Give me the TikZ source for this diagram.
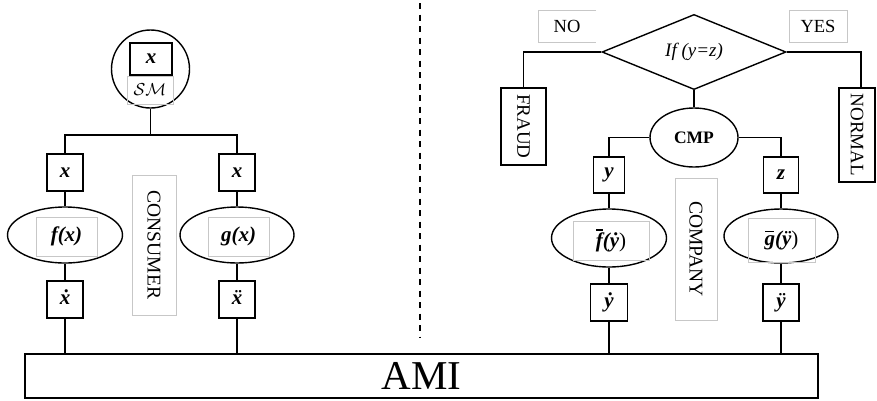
\documentclass[tikz,border=0pt]{standalone}
\usepackage{fontspec}
\usepackage{graphicx}
\setmainfont{Liberation Serif}
\usetikzlibrary{shapes.geometric}
% accent glyph laid over a letter
\newcommand\accover[2]{{\ooalign{#2\cr\hidewidth#1\hidewidth\cr}}}
% bar over a letter: #1 shift, #2 height, #3 length, #4 letter
\newcommand\barover[4]{\leavevmode\rlap{\kern#1\rule[#2]{#3}{0.07em}}#4}

\begin{document}
\begin{tikzpicture}[x=1pt,y=-1pt,
  wire/.style={line width=1.4pt},
  sq/.style={draw,wire,inner sep=0pt,font=\fontsize{21}{24}\selectfont\bfseries\itshape},
  plain/.style={draw,wire,inner sep=0pt,font=\fontsize{19}{22}\selectfont},
  ov/.style={draw,wire,ellipse,inner sep=0pt},
  tag/.style={draw=black!22,line width=0.6pt,inner sep=0pt},
  math/.style={font=\fontsize{21}{24}\selectfont\bfseries\itshape}]
\useasboundingbox (0,0) rectangle (877,400);

% ---------- consumer side ----------
\node[circle,draw,wire,minimum size=78] (sm) at (150.5,69) {};
\node[draw,line width=2pt,minimum width=42,minimum height=32,inner sep=0pt,
      font=\fontsize{21}{24}\selectfont\bfseries\itshape] (smx) at (151,59) {x};
\node[tag,minimum width=46,minimum height=28,font=\fontsize{16}{18}\selectfont] (smtag) at (150,90) {$\mathcal{SM}$};
\coordinate (lj) at (150.5,135);

\node[sq,minimum width=36,minimum height=37] (xa) at (65,172.5) {x};
\node[sq,minimum width=36,minimum height=37] (xb) at (237,172.5) {x};
\node[ov,minimum width=115,minimum height=56] (fa) at (65,235) {};
\node[tag,math,minimum width=61,minimum height=39] (fatag) at (66.5,236.5) {f(x)};
\node[ov,minimum width=114,minimum height=56] (gb) at (237,235) {};
\node[tag,math,minimum width=61,minimum height=39] (gbtag) at (238.5,236.5) {g(x)};
\node[sq,minimum width=36,minimum height=37] (xda) at (65,299.5) {\accover{˙}{x}};
\node[sq,minimum width=36,minimum height=37] (xdb) at (237,299.5) {\accover{¨}{x}};
\node[tag,minimum width=44,minimum height=140,font=\fontsize{19.5}{22}\selectfont] (cons) at (154,245) {\rotatebox{-90}{CONSUMER}};

% ---------- AMI bus ----------
\node[draw,line width=2.5pt,minimum width=793,minimum height=44,inner sep=0pt,
      font=\fontsize{41}{44}\selectfont] (ami) at (421.5,376) {AMI};

\draw[wire] (sm.south) -- (lj);
\draw[wire] (xa.north) |- (lj) -| (xb.north);
\draw[wire] (xa) -- (fa);
\draw[wire] (xb) -- (gb);
\draw[wire] (fa) -- (xda);
\draw[wire] (gb) -- (xdb);
\draw[wire] (xda.south) -- (xda.south |- ami.north);
\draw[wire] (xdb.south) -- (xdb.south |- ami.north);

% separator
\draw[line width=2pt,dash pattern=on 6pt off 5.5pt] (420,3) -- (420,337);

% ---------- company side ----------
\node[draw,wire,diamond,minimum width=184,minimum height=74,inner sep=0pt,
      font=\fontsize{19}{22}\selectfont\itshape] (dia) at (694,52) {If (y=z)};
\node[minimum width=58,minimum height=32,inner sep=0pt,font=\fontsize{18.5}{21}\selectfont] (no) at (567,26) {NO};
\draw[tag] (no.north east) -- (no.north west) -- (no.south west) -- (no.south east);
\node[tag,minimum width=58,minimum height=32,font=\fontsize{18.5}{21}\selectfont] (yes) at (818,26) {YES};
\node[plain,minimum width=45,minimum height=77] (fraud) at (523.5,126.5) {\rotatebox{-90}{FRAUD}};
\node[plain,minimum width=36,minimum height=94] (normal) at (857,135) {\rotatebox{-90}{NORMAL}};
\node[ov,minimum width=88,minimum height=59,font=\fontsize{17.5}{20}\selectfont\bfseries] (cmp) at (694,137.5) {CMP};

\draw[wire] (dia.west) -| (fraud.north);
\draw[wire] (dia.east) -| ([xshift=4]normal.north);
\draw[wire] (dia.south) -- (cmp.north);

\node[sq,minimum width=31,minimum height=36] (yb) at (609,175) {y};
\node[sq,minimum width=35,minimum height=36] (zb) at (781,175) {z};
\node[ov,minimum width=115,minimum height=58] (fbar) at (609,238) {};
\node[tag,math,minimum width=76,minimum height=39] (fbartag) at (611,240.5) {\barover{0.02em}{0.8em}{0.32em}{f}(\accover{˙}{y}\textup{\mdseries)}};
\node[ov,minimum width=114,minimum height=54] (gbar) at (781,236) {};
\node[tag,math,minimum width=67,minimum height=44] (gbartag) at (781.5,240) {\barover{0.02em}{0.6em}{0.45em}{g}(\accover{¨}{y}\textup{\mdseries)}};
\node[sq,minimum width=37,minimum height=37] (yd) at (609,302.5) {\accover{˙}{y}};
\node[sq,minimum width=36,minimum height=37] (ydd) at (781,302.5) {\accover{¨}{y}};
\node[tag,minimum width=42,minimum height=142,font=\fontsize{19.5}{22}\selectfont] (comp) at (696,249) {\rotatebox{-90}{COMPANY}};

\draw[wire] (cmp.west) -| (yb.north);
\draw[wire] (cmp.east) -| (zb.north);
\draw[wire] (yb) -- (fbar);
\draw[wire] (zb) -- (gbar);
\draw[wire] (fbar) -- (yd);
\draw[wire] (gbar) -- (ydd);
\draw[wire] (yd.south) -- (yd.south |- ami.north);
\draw[wire] (ydd.south) -- (ydd.south |- ami.north);
\end{tikzpicture}
\end{document}
